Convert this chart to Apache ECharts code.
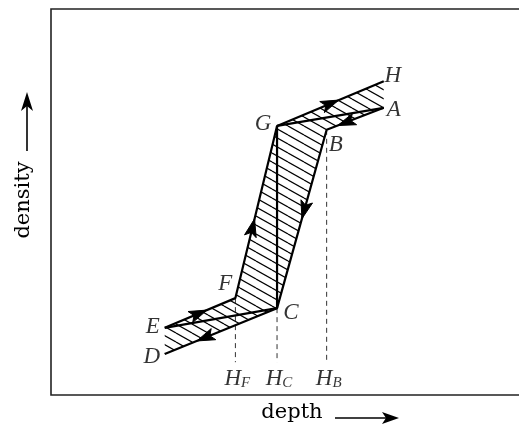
<!DOCTYPE html>
<html>
<head>
<meta charset="utf-8">
<script src="https://cdn.jsdelivr.net/npm/echarts@6/dist/echarts.min.js"></script>
<style>
  html, body { margin: 0; padding: 0; background: #fff; }
  #chart { width: 519px; height: 432px; }
</style>
</head>
<body>
<div id="chart"></div>
<script>
// point names and their (depth, density) positions
const pointNames = ['A', 'B', 'C', 'D', 'E', 'F', 'G', 'H'];
const pointDepth = [71.1, 58.9, 48.3, 24.3, 24.3, 39.4, 48.3, 71.1];
const pointDensity = [74.4, 68.7, 22.5, 10.6, 17.4, 25.1, 69.7, 81.3];

// paths (by point name)
const upPath = ['E', 'F', 'G', 'H'];
const downPath = ['A', 'B', 'C', 'D'];
const chords = [['G', 'A'], ['G', 'C'], ['C', 'E']];
const hatchOutline = ['H', 'G', 'F', 'E', 'D', 'C', 'B', 'A'];

// arrows: from, to, fraction along the segment
const arrowSegs = [['E', 'F', 0.48], ['F', 'G', 0.41], ['G', 'H', 0.5],
                   ['A', 'B', 0.66], ['B', 'C', 0.45], ['C', 'D', 0.64]];

// dashed drops to the depth axis
const dropNames = ['F', 'C', 'B'];
const dropLabels = ['F', 'C', 'B'];
const dropFoot = 8.5;

const P = {};
pointNames.forEach((n, i) => { P[n] = [pointDepth[i], pointDensity[i]]; });

// label offsets (pixels) for each point letter
const labelOffset = {
  A: [10, 2], B: [9, 15], C: [14, 5], D: [-13, 3],
  E: [-12, -1], F: [-10, -14], G: [-14, -2], H: [9, -5]
};

// diagonal hatch pattern
function hatchPattern() {
  const c = document.createElement('canvas');
  c.width = 16; c.height = 9;
  const ctx = c.getContext('2d');
  ctx.strokeStyle = '#000';
  ctx.lineWidth = 1.2;
  for (let k = -1; k <= 1; k++) {
    ctx.beginPath();
    ctx.moveTo(0, k * 9);
    ctx.lineTo(16, k * 9 + 9);
    ctx.stroke();
  }
  return c;
}

const chart = echarts.init(document.getElementById('chart'));
const lineStyle = { color: '#000', width: 2.2 };
const serif = '"DejaVu Serif", serif';
const italic = '"Liberation Serif", serif';

const series = [];

// hatched region
series.push({
  type: 'custom',
  silent: true,
  data: [0],
  renderItem: function (params, api) {
    return {
      type: 'polygon',
      shape: { points: hatchOutline.map(n => api.coord(P[n])) },
      style: { fill: { image: hatchPattern(), repeat: 'repeat' }, stroke: null }
    };
  },
  z: 1
});

// dashed drops
dropNames.forEach(n => {
  series.push({
    type: 'line', symbol: 'none', silent: true,
    data: [P[n], [P[n][0], dropFoot]],
    lineStyle: { color: '#333', width: 1, type: [5, 4] },
    z: 2
  });
});

// main paths
[upPath, downPath].concat(chords).forEach(path => {
  series.push({
    type: 'line', symbol: 'none', silent: true,
    data: path.map(n => P[n]),
    lineStyle: lineStyle,
    z: 3
  });
});

// arrow heads
series.push({
  type: 'custom',
  silent: true,
  data: arrowSegs.map((s, i) => i),
  renderItem: function (params, api) {
    const s = arrowSegs[params.dataIndex];
    const p1 = api.coord(P[s[0]]);
    const p2 = api.coord(P[s[1]]);
    const t = s[2];
    const cx = p1[0] + (p2[0] - p1[0]) * t;
    const cy = p1[1] + (p2[1] - p1[1]) * t;
    const a = Math.atan2(p2[1] - p1[1], p2[0] - p1[0]);
    const ca = Math.cos(a), sa = Math.sin(a);
    const local = [[9, 0], [-9, -6], [-5, 0], [-9, 6]];
    return {
      type: 'polygon',
      shape: { points: local.map(q => [cx + q[0] * ca - q[1] * sa, cy + q[0] * sa + q[1] * ca]) },
      style: { fill: '#000', stroke: '#000', lineWidth: 1 }
    };
  },
  z: 4
});

// point letters
series.push({
  type: 'scatter', symbolSize: 0, silent: true,
  data: pointNames.map(n => ({ name: n, value: P[n] })),
  label: {
    show: true,
    position: 'inside',
    formatter: '{b}',
    fontFamily: italic, fontStyle: 'italic', fontSize: 23, color: '#000'
  },
  labelLayout: function (params) {
    const n = pointNames[params.dataIndex];
    const o = labelOffset[n];
    return { dx: o[0], dy: o[1] };
  },
  z: 5
});

// H_F, H_C, H_B
series.push({
  type: 'scatter', symbolSize: 0, silent: true,
  data: dropNames.map((n, i) => ({ name: dropLabels[i], value: [P[n][0], dropFoot] })),
  label: {
    show: true,
    position: 'inside',
    offset: [2, 17],
    formatter: p => '{h|H}{s|' + p.name + '}',
    rich: {
      h: { fontFamily: italic, fontStyle: 'italic', fontSize: 23, color: '#000', lineHeight: 22, verticalAlign: 'bottom' },
      s: { fontFamily: italic, fontStyle: 'italic', fontSize: 15, color: '#000', lineHeight: 14, verticalAlign: 'bottom' }
    }
  },
  z: 5
});

chart.setOption({
  animation: false,
  grid: { left: 51, top: 9, width: 470, height: 386 },
  xAxis: { type: 'value', min: 0, max: 100, show: false },
  yAxis: { type: 'value', min: 0, max: 100, show: false },
  graphic: [
    // frame: top, left and bottom (the right side runs off the picture)
    {
      type: 'polyline',
      shape: { points: [[525, 9], [51, 9], [51, 395], [525, 395]] },
      style: { stroke: '#222', lineWidth: 1.6, fill: null }
    },
    {
      type: 'text', x: 292, y: 413,
      style: { text: 'depth', font: '21px ' + serif, fill: '#000', align: 'center', verticalAlign: 'middle' }
    },
    { type: 'line', shape: { x1: 335, y1: 418, x2: 388, y2: 418 }, style: { stroke: '#000', lineWidth: 1.6 } },
    { type: 'polygon', shape: { points: [[399, 418], [382, 412], [386, 418], [382, 424]] }, style: { fill: '#000' } },
    {
      type: 'text', x: 24, y: 200, rotation: Math.PI / 2,
      style: { text: 'density', font: '21px ' + serif, fill: '#000', align: 'center', verticalAlign: 'middle' }
    },
    { type: 'line', shape: { x1: 27, y1: 151, x2: 27, y2: 104 }, style: { stroke: '#000', lineWidth: 1.6 } },
    { type: 'polygon', shape: { points: [[27, 92], [21, 111], [27, 106], [33, 111]] }, style: { fill: '#000' } }
  ],
  series: series
});
</script>
</body>
</html>
